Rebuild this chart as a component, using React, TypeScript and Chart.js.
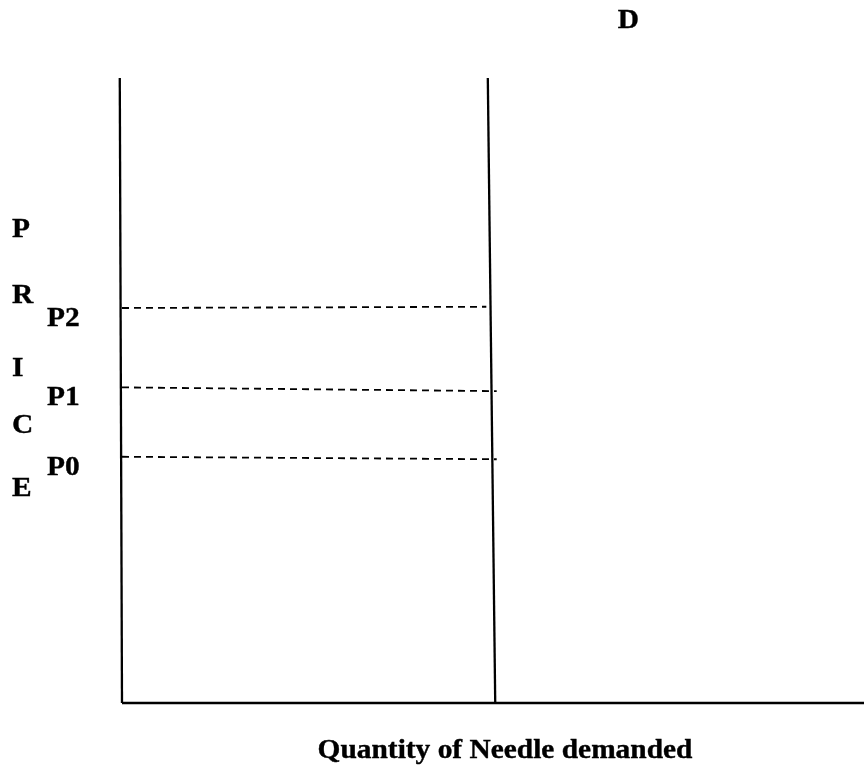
import React, { useEffect, useRef } from "react";
import { Chart, registerables } from "chart.js";

Chart.register(...registerables);

// Quantity (x) and price (y) run from 0 to 10 in arbitrary units
const quantityAxisX = [0, 10];
const quantityAxisY = [0, 0];
const priceAxisX = [-0.03, 0];
const priceAxisY = [10, 0];
const demandX = [4.93, 5.03];
const demandY = [10, 0];

const priceNames = ["P2", "P1", "P0"];
const priceLevels = [6.32, 5.05, 3.94];
const priceLineEndX = [4.91, 5.05, 5.05];
const priceLineEndY = [6.34, 4.99, 3.9];

const yTitleLetters = ["P", "R", "I", "C", "E"];
const xTitle = "Quantity of Needle demanded";
const demandLabel = "D";

const pts = (xs: number[], ys: number[]) => xs.map((x, i) => ({ x, y: ys[i] }));

const FONT = 'bold 28px "Liberation Serif", "Times New Roman", serif';
const STRETCH = 1.05;

function drawStretched(ctx: CanvasRenderingContext2D, text: string, x: number, y: number, align: "left" | "center") {
  ctx.save();
  ctx.font = FONT;
  ctx.textBaseline = "alphabetic";
  ctx.textAlign = "left";
  const w = ctx.measureText(text).width * STRETCH;
  const left = align === "center" ? x - w / 2 : x;
  ctx.translate(left, y);
  ctx.scale(STRETCH, 1);
  ctx.fillStyle = "#000";
  ctx.strokeStyle = "#000";
  ctx.lineWidth = 0.4;
  ctx.fillText(text, 0, 0);
  ctx.strokeText(text, 0, 0);
  ctx.restore();
}

const labelsPlugin = {
  id: "econLabels",
  afterDraw(chart: any) {
    const ctx = chart.ctx as CanvasRenderingContext2D;
    const xs = chart.scales.x;
    const ys = chart.scales.y;
    // vertical axis title
    const baselines = [237, 303, 376, 433, 496];
    yTitleLetters.forEach((l, i) => drawStretched(ctx, l, 12, baselines[i], "left"));
    // price level labels
    priceNames.forEach((n, i) => {
      const py = ys.getPixelForValue(priceLevels[i]);
      drawStretched(ctx, n, 47, py + 18, "left");
    });
    // demand label
    const dx = xs.getPixelForValue(demandX[0]);
    drawStretched(ctx, demandLabel, dx + 130, 28, "left");
    // x axis title
    const cx = (xs.getPixelForValue(0) + xs.getPixelForValue(10)) / 2 + 12;
    drawStretched(ctx, xTitle, cx, 758, "center");
  },
};

export default function App() {
  const ref = useRef<HTMLCanvasElement | null>(null);
  useEffect(() => {
    if (!ref.current) return;
    const solid = { borderColor: "#000", borderWidth: 2.3, pointRadius: 0, showLine: true, fill: false, clip: false as any, tension: 0 };
    const dashed = { ...solid, borderWidth: 1.8, borderDash: [7, 5] };
    const chart = new Chart(ref.current, {
      type: "line",
      data: {
        datasets: [
          { ...solid, label: "Price axis", data: pts(priceAxisX, priceAxisY) },
          { ...solid, label: "Quantity axis", data: pts(quantityAxisX, quantityAxisY) },
          { ...solid, label: "D", data: pts(demandX, demandY) },
          ...priceNames.map((n, i) => ({
            ...dashed,
            label: n,
            data: pts([0, priceLineEndX[i]], [priceLevels[i], priceLineEndY[i]]),
          })),
        ],
      },
      options: {
        animation: false,
        responsive: false,
        events: [],
        layout: { padding: { left: 122, right: 1, top: 78, bottom: 64 } },
        plugins: { legend: { display: false }, tooltip: { enabled: false } },
        scales: {
          x: { type: "linear", min: 0, max: 10, display: false },
          y: { type: "linear", min: 0, max: 10, display: false },
        },
      },
      plugins: [labelsPlugin],
    });
    return () => chart.destroy();
  }, []);
  return (
    <div style={{ position: "absolute", left: 0, top: 0, width: 865, height: 767, background: "#fff" }}>
      <canvas ref={ref} width={865} height={767} style={{ display: "block" }} />
    </div>
  );
}
